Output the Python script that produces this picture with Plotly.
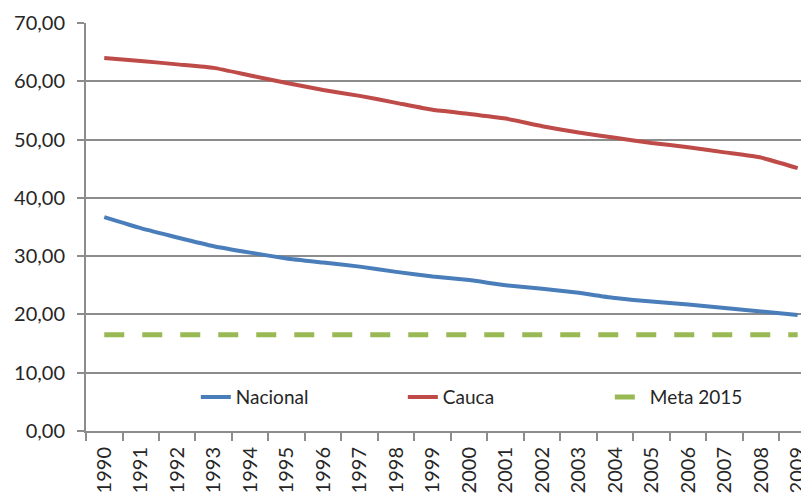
import plotly.graph_objects as go

BLUE = "#4A7EBB"
RED = "#BE4B48"
GREEN = "#98B954"
GRID = "#8C8C8C"

years = [str(y) for y in range(1990, 2010)]
nacional = [36.7, 34.8, 33.2, 31.7, 30.6, 29.6, 28.9, 28.2, 27.3, 26.5,
            25.9, 25.0, 24.4, 23.7, 22.8, 22.2, 21.7, 21.1, 20.5, 19.9]
cauca = [64.0, 63.5, 62.9, 62.3, 61.0, 59.7, 58.5, 57.5, 56.3, 55.1,
         54.4, 53.6, 52.3, 51.2, 50.3, 49.4, 48.7, 47.8, 46.9, 45.1]
meta_2015 = [16.5] * len(years)

fig = go.Figure()
fig.add_trace(go.Scatter(x=years, y=nacional, mode="lines", name="Nacional",
                         line=dict(color=BLUE, width=4, shape="spline", smoothing=0.4)))
fig.add_trace(go.Scatter(x=years, y=cauca, mode="lines", name="Cauca",
                         line=dict(color=RED, width=4, shape="spline", smoothing=0.4)))
fig.add_trace(go.Scatter(x=years, y=meta_2015, mode="lines", name="Meta 2015",
                         line=dict(color=GREEN, width=5, dash="20px,18px")))

# la page a une marge de 8 px : on compense dans les marges
fig.update_layout(
    width=809,
    height=496,
    margin=dict(l=78, r=0, t=15, b=73),
    plot_bgcolor="white",
    paper_bgcolor="white",
    separators=",.",
    font=dict(family="Lato", size=19, color="#262626"),
    showlegend=True,
    legend=dict(
        orientation="h",
        x=0.575,
        y=0.083,
        xanchor="center",
        yanchor="middle",
        bgcolor="rgba(255,255,255,0)",
        entrywidth=162,
        font=dict(size=19),
    ),
)
fig.update_xaxes(
    type="category",
    range=[-0.5, 19.53],
    automargin=False,
    tickangle=-90,
    tickson="boundaries",
    ticks="outside",
    ticklen=8,
    tickcolor=GRID,
    tickwidth=2,
    ticklabelstandoff=6,
    showline=True,
    linecolor=GRID,
    linewidth=2,
    showgrid=False,
    tickfont=dict(size=20),
)
fig.update_yaxes(
    range=[0, 70],
    dtick=10,
    automargin=False,
    tickformat=".2f",
    ticks="outside",
    ticklen=7,
    tickcolor=GRID,
    tickwidth=2,
    ticklabelstandoff=8,
    showline=True,
    linecolor=GRID,
    linewidth=2,
    showgrid=True,
    gridcolor=GRID,
    gridwidth=2,
    zeroline=False,
    tickfont=dict(size=20),
)

fig.write_html("out.html")
